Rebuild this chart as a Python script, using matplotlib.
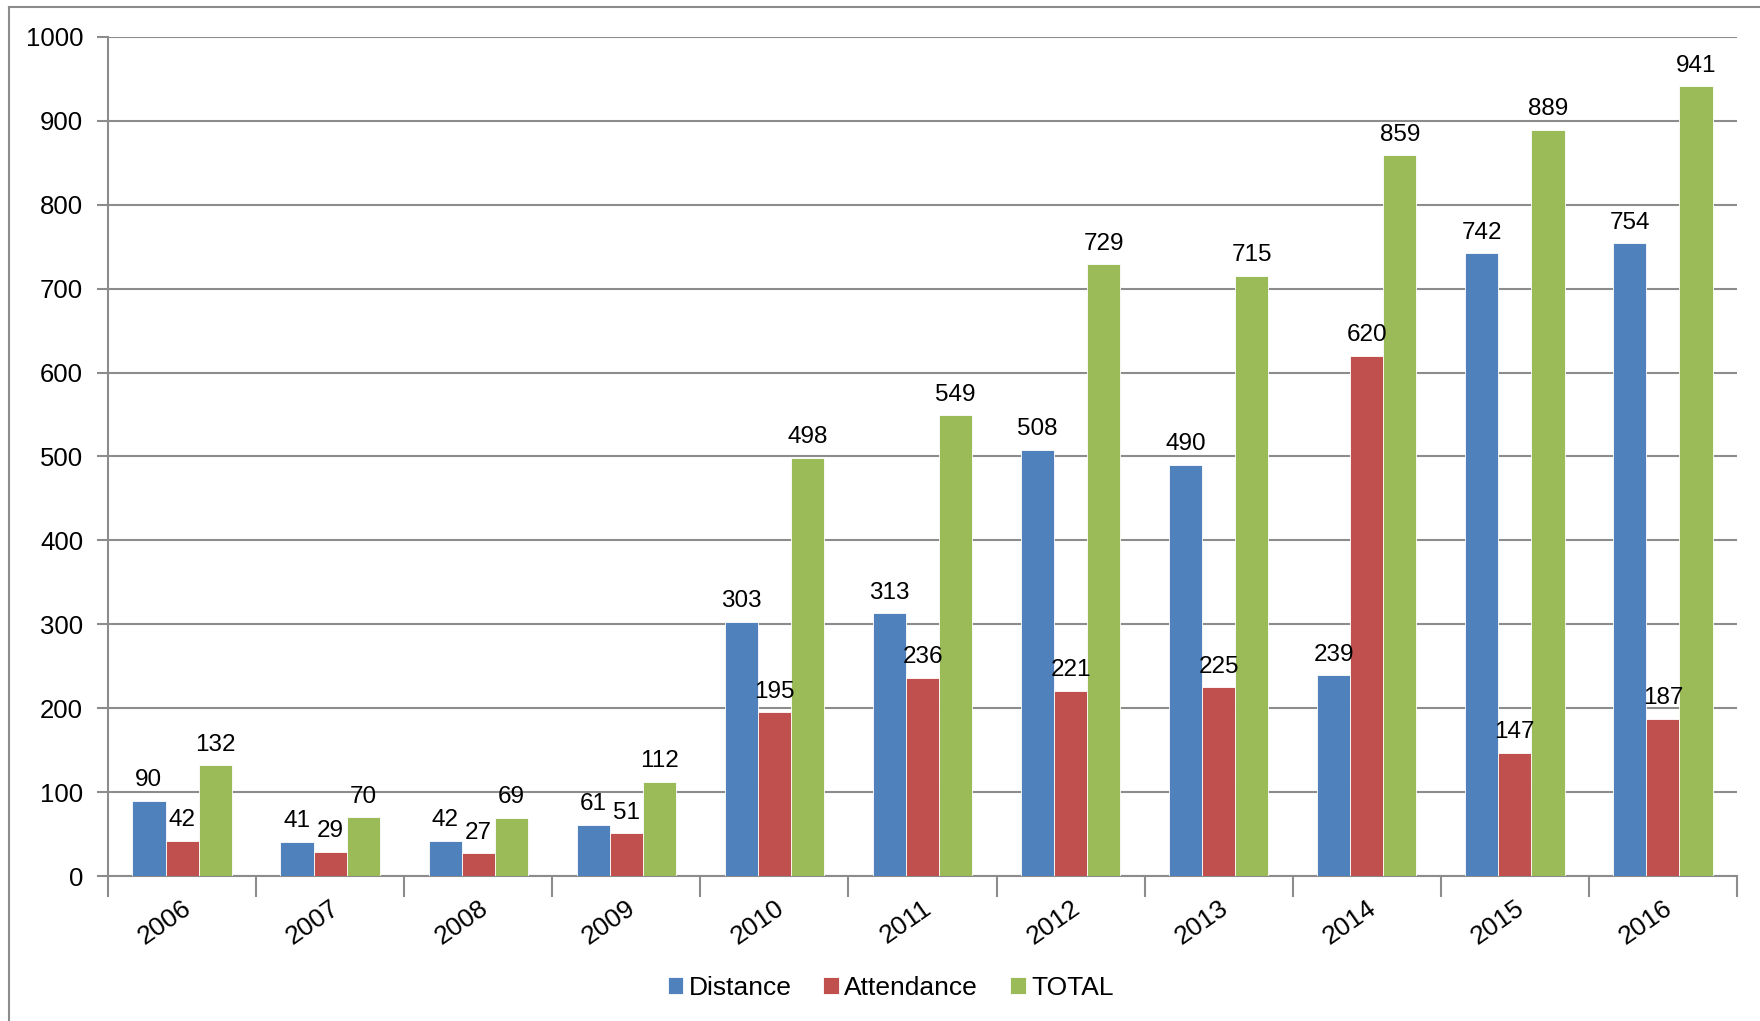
import matplotlib.pyplot as plt
import numpy as np
from matplotlib.lines import Line2D

plt.rcParams['font.family'] = ['Liberation Sans', 'DejaVu Sans']

years = ['2006', '2007', '2008', '2009', '2010', '2011', '2012', '2013', '2014', '2015', '2016']
distance = [90, 41, 42, 61, 303, 313, 508, 490, 239, 742, 754]
attendance = [42, 29, 27, 51, 195, 236, 221, 225, 620, 147, 187]
total = [132, 70, 69, 112, 498, 549, 729, 715, 859, 889, 941]

series = [('Distance', distance, '#4F81BD'),
          ('Attendance', attendance, '#C0504D'),
          ('TOTAL', total, '#9BBB59')]

fig = plt.figure(figsize=(17.6, 10.21), dpi=100)
ax = fig.add_axes([0.0614, 0.142, 0.9255, 0.8218])

# outer chart border (only left and top visible in the image)
fig.add_artist(Line2D([9 / 1760, 9 / 1760], [0, 1 - 7 / 1021], transform=fig.transFigure, color='#8c8c8c', lw=1.5))
fig.add_artist(Line2D([9 / 1760, 1], [1 - 7 / 1021, 1 - 7 / 1021], transform=fig.transFigure, color='#8c8c8c', lw=1.5))

x = np.arange(len(years))
w = 0.224
for i, (name, vals, col) in enumerate(series):
    pos = x + (i - 1) * w
    bars = ax.bar(pos, vals, width=w, color=col, label=name, edgecolor='white', linewidth=0.6, zorder=3)
    for b, v in zip(bars, vals):
        ax.annotate(str(v), (b.get_x() + b.get_width() / 2, v), xytext=(0, 7), textcoords='offset points',
                    ha='center', va='bottom', fontsize=17.5, zorder=4)

ax.set_xlim(-0.5, len(years) - 0.5)
ax.set_ylim(0, 1000)
ax.set_yticks(range(0, 1001, 100))
ax.yaxis.grid(True, color='#8c8c8c', lw=1.5, zorder=0)
ax.tick_params(axis='y', labelsize=18.5, length=8, color='#8c8c8c', width=1.5, pad=10)

ax.set_xticks(x)
ax.set_xticklabels(years, rotation=35, ha='right', rotation_mode='anchor', fontsize=19)
ax.tick_params(axis='x', which='major', length=0, pad=14)
ax.set_xticks(np.arange(-0.5, len(years)), minor=True)
ax.tick_params(axis='x', which='minor', length=15, color='#8c8c8c', width=1.5)

for s in ['top', 'right']:
    ax.spines[s].set_visible(False)
for s in ['left', 'bottom']:
    ax.spines[s].set_color('#8c8c8c')
    ax.spines[s].set_linewidth(1.5)

fig.legend(loc='center', bbox_to_anchor=(0.506, 1 - 988 / 1021), ncol=3, frameon=False, fontsize=19,
           handlelength=0.6, handleheight=0.6, handletextpad=0.2, columnspacing=1.2)

fig.savefig('out.png', dpi=100)
